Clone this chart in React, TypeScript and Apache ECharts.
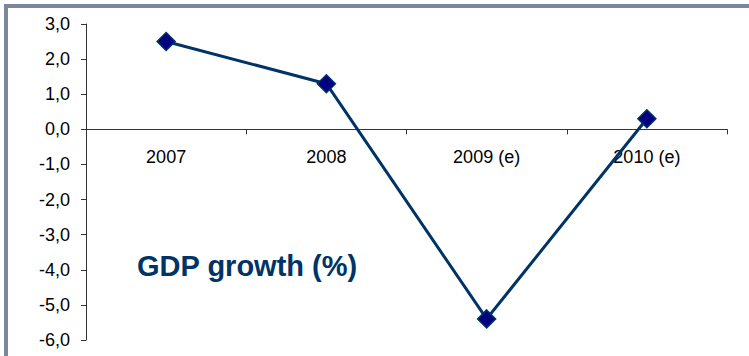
import React, { useEffect, useRef } from "react";
import * as echarts from "echarts";

const categories = ["2007", "2008", "2009 (e)", "2010 (e)"];
const gdpGrowth = [2.5, 1.3, -5.4, 0.3];
const yMin = -6;
const yMax = 3;
const titleText = "GDP growth (%)";

const GRID_TOP = 24;
const GRID_BOTTOM = 16;
const H = 356;

export default function App() {
  const ref = useRef<HTMLDivElement>(null);
  useEffect(() => {
    const chart = echarts.init(ref.current!, null, { renderer: "svg" });
    const plotH = H - GRID_TOP - GRID_BOTTOM;
    const zeroOffset = -plotH * (0 - yMin) / (yMax - yMin);
    chart.setOption({
      animation: false,
      backgroundColor: "#ffffff",
      textStyle: { fontFamily: "Liberation Sans, Arial, sans-serif" },
      grid: { left: 86, right: 22, top: GRID_TOP, bottom: GRID_BOTTOM, containLabel: false, outerBoundsMode: "none" },
      xAxis: {
        type: "category",
        data: categories,
        boundaryGap: true,
        position: "bottom",
        offset: zeroOffset,
        axisLine: { onZero: false, lineStyle: { color: "#333333", width: 1 } },
        axisTick: { show: true, length: 5, lineStyle: { color: "#333333" } },
        axisLabel: { color: "#000000", fontSize: 18, margin: 19, fontFamily: "Liberation Sans, Arial, sans-serif" },
        splitLine: { show: false },
      },
      yAxis: {
        type: "value",
        min: yMin,
        max: yMax,
        interval: 1,
        axisLine: { show: true, lineStyle: { color: "#333333", width: 1 } },
        axisTick: { show: true, length: 5, lineStyle: { color: "#333333" } },
        axisLabel: {
          color: "#000000",
          fontSize: 18,
          margin: 16,
          fontFamily: "Liberation Sans, Arial, sans-serif",
          formatter: (v: number) => v.toFixed(1).replace(".", ","),
        },
        splitLine: { show: false },
      },
      series: [
        {
          type: "line",
          data: gdpGrowth,
          symbol: "diamond",
          symbolSize: 18,
          lineStyle: { color: "#003366", width: 3 },
          itemStyle: { color: "#000080", borderColor: "#003366", borderWidth: 1.5 },
          z: 3,
        },
      ],
      graphic: [
        { type: "rect", shape: { x: 4, y: 4, width: 745, height: 4 }, style: { fill: "#7b889b" }, z: 10 },
        { type: "rect", shape: { x: 4, y: 4, width: 4, height: 352 }, style: { fill: "#7b889b" }, z: 10 },
        {
          type: "text",
          x: 137,
          y: 266,
          style: {
            text: titleText,
            fill: "#003366",
            font: "bold 29px 'Liberation Sans', Arial, sans-serif",
            textVerticalAlign: "middle",
            verticalAlign: "middle",
          },
          z: 10,
        },
      ],
    });
    return () => chart.dispose();
  }, []);
  return <div ref={ref} style={{ position: "absolute", left: 0, top: 0, width: 749, height: 356 }} />;
}
